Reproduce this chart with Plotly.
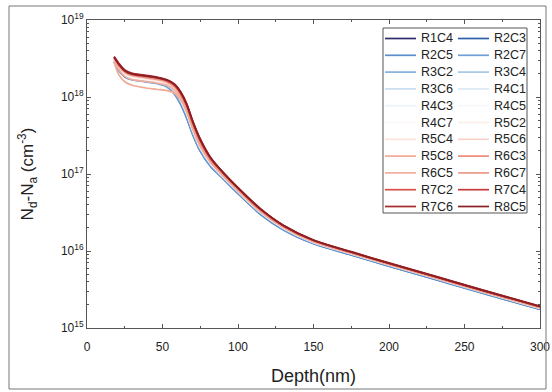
import plotly.graph_objects as go

depth = [18, 21, 25, 30, 38, 46, 53, 58, 62, 66, 70, 75, 82, 90, 100, 115, 130, 150, 175, 200, 230, 260, 300]

R1C4 = [2.9e18, 2.25e18, 1.85e18, 1.7e18, 1.62e18, 1.52e18, 1.38e18, 1.12e18, 8.4e17, 5.6e17, 3.4e17, 2.05e17, 1.27e17, 8.9e16, 5.7e16, 3.05e16, 1.92e16, 1.26e16, 9.02e15, 6.44e15, 4.37e15, 2.94e15, 1.77e15]
R2C3 = [2.95e18, 2.3e18, 1.9e18, 1.72e18, 1.63e18, 1.53e18, 1.37e18, 1.1e18, 8.2e17, 5.4e17, 3.3e17, 2.0e17, 1.25e17, 8.8e16, 5.6e16, 3.0e16, 1.9e16, 1.25e16, 8.92e15, 6.37e15, 4.32e15, 2.91e15, 1.75e15]
R2C5 = [2.85e18, 2.2e18, 1.82e18, 1.66e18, 1.58e18, 1.5e18, 1.35e18, 1.08e18, 8.0e17, 5.3e17, 3.25e17, 1.98e17, 1.24e17, 8.7e16, 5.55e16, 2.98e16, 1.88e16, 1.24e16, 8.87e15, 6.34e15, 4.3e15, 2.9e15, 1.74e15]
R2C7 = [3.0e18, 2.35e18, 1.92e18, 1.75e18, 1.65e18, 1.55e18, 1.4e18, 1.13e18, 8.5e17, 5.7e17, 3.45e17, 2.08e17, 1.29e17, 9.0e16, 5.75e16, 3.08e16, 1.93e16, 1.27e16, 9.07e15, 6.48e15, 4.39e15, 2.96e15, 1.78e15]
R3C2 = [2.9e18, 2.28e18, 1.88e18, 1.71e18, 1.61e18, 1.52e18, 1.38e18, 1.13e18, 8.6e17, 5.8e17, 3.5e17, 2.1e17, 1.3e17, 9.0e16, 5.8e16, 3.1e16, 1.95e16, 1.28e16, 9.11e15, 6.51e15, 4.42e15, 2.98e15, 1.79e15]
R3C4 = [2.95e18, 2.32e18, 1.9e18, 1.73e18, 1.64e18, 1.55e18, 1.42e18, 1.17e18, 8.9e17, 6.0e17, 3.6e17, 2.15e17, 1.32e17, 9.1e16, 5.85e16, 3.12e16, 1.96e16, 1.28e16, 9.16e15, 6.55e15, 4.44e15, 2.99e15, 1.8e15]
R3C6 = [3.0e18, 2.4e18, 1.98e18, 1.8e18, 1.7e18, 1.6e18, 1.46e18, 1.22e18, 9.3e17, 6.3e17, 3.8e17, 2.25e17, 1.38e17, 9.4e16, 6.0e16, 3.2e16, 2.0e16, 1.3e16, 9.31e15, 6.65e15, 4.51e15, 3.04e15, 1.82e15]
R4C1 = [3.05e18, 2.42e18, 2.0e18, 1.82e18, 1.72e18, 1.62e18, 1.48e18, 1.24e18, 9.5e17, 6.5e17, 3.9e17, 2.3e17, 1.4e17, 9.5e16, 6.05e16, 3.22e16, 2.02e16, 1.31e16, 9.36e15, 6.69e15, 4.54e15, 3.06e15, 1.83e15]
R4C3 = [2.98e18, 2.38e18, 1.96e18, 1.78e18, 1.69e18, 1.59e18, 1.45e18, 1.21e18, 9.2e17, 6.2e17, 3.75e17, 2.22e17, 1.37e17, 9.3e16, 5.95e16, 3.18e16, 1.99e16, 1.3e16, 9.26e15, 6.62e15, 4.49e15, 3.02e15, 1.81e15]
R4C5 = [3.1e18, 2.45e18, 2.02e18, 1.84e18, 1.74e18, 1.64e18, 1.5e18, 1.26e18, 9.7e17, 6.6e17, 3.95e17, 2.32e17, 1.41e17, 9.6e16, 6.1e16, 3.25e16, 2.03e16, 1.32e16, 9.41e15, 6.72e15, 4.56e15, 3.07e15, 1.84e15]
R4C7 = [3.0e18, 2.36e18, 1.94e18, 1.77e18, 1.68e18, 1.58e18, 1.44e18, 1.2e18, 9.1e17, 6.1e17, 3.7e17, 2.2e17, 1.36e17, 9.3e16, 5.95e16, 3.17e16, 1.99e16, 1.3e16, 9.26e15, 6.62e15, 4.49e15, 3.02e15, 1.81e15]
R5C2 = [3.05e18, 2.44e18, 2.01e18, 1.83e18, 1.73e18, 1.63e18, 1.49e18, 1.25e18, 9.6e17, 6.55e17, 3.92e17, 2.3e17, 1.4e17, 9.55e16, 6.08e16, 3.24e16, 2.02e16, 1.31e16, 9.36e15, 6.69e15, 4.54e15, 3.06e15, 1.83e15]
R5C4 = [3.1e18, 2.5e18, 2.05e18, 1.86e18, 1.76e18, 1.66e18, 1.52e18, 1.3e18, 1.0e18, 6.8e17, 4.05e17, 2.38e17, 1.44e17, 9.7e16, 6.15e16, 3.28e16, 2.05e16, 1.33e16, 9.41e15, 6.72e15, 4.56e15, 3.07e15, 1.84e15]
R5C6 = [3.15e18, 2.55e18, 2.08e18, 1.88e18, 1.78e18, 1.68e18, 1.54e18, 1.32e18, 1.02e18, 7.0e17, 4.15e17, 2.42e17, 1.46e17, 9.8e16, 6.2e16, 3.3e16, 2.06e16, 1.34e16, 9.46e15, 6.76e15, 4.58e15, 3.09e15, 1.85e15]
R5C8 = [2.8e18, 1.95e18, 1.58e18, 1.42e18, 1.32e18, 1.26e18, 1.21e18, 1.12e18, 9.2e17, 6.4e17, 3.85e17, 2.28e17, 1.4e17, 9.5e16, 6.05e16, 3.22e16, 2.02e16, 1.31e16, 9.31e15, 6.65e15, 4.51e15, 3.04e15, 1.82e15]
R6C3 = [3.2e18, 2.6e18, 2.15e18, 1.95e18, 1.85e18, 1.75e18, 1.6e18, 1.38e18, 1.08e18, 7.4e17, 4.4e17, 2.55e17, 1.5e17, 1.0e17, 6.35e16, 3.38e16, 2.1e16, 1.36e16, 9.55e15, 6.83e15, 4.63e15, 3.12e15, 1.87e15]
R6C5 = [3.1e18, 2.3e18, 1.85e18, 1.68e18, 1.6e18, 1.52e18, 1.42e18, 1.22e18, 9.6e17, 6.6e17, 3.95e17, 2.32e17, 1.42e17, 9.6e16, 6.1e16, 3.25e16, 2.03e16, 1.32e16, 9.36e15, 6.69e15, 4.54e15, 3.06e15, 1.83e15]
R6C7 = [3.2e18, 2.55e18, 2.1e18, 1.9e18, 1.8e18, 1.7e18, 1.56e18, 1.35e18, 1.05e18, 7.2e17, 4.3e17, 2.5e17, 1.48e17, 9.9e16, 6.3e16, 3.35e16, 2.08e16, 1.35e16, 9.5e15, 6.79e15, 4.6e15, 3.1e15, 1.86e15]
R7C2 = [3.3e18, 2.7e18, 2.22e18, 2.0e18, 1.9e18, 1.8e18, 1.65e18, 1.45e18, 1.15e18, 8.0e17, 4.8e17, 2.8e17, 1.6e17, 1.05e17, 6.6e16, 3.5e16, 2.15e16, 1.38e16, 9.7e15, 6.93e15, 4.7e15, 3.17e15, 1.9e15]
R7C4 = [3.25e18, 2.65e18, 2.18e18, 1.97e18, 1.87e18, 1.77e18, 1.63e18, 1.42e18, 1.12e18, 7.8e17, 4.65e17, 2.72e17, 1.57e17, 1.04e17, 6.5e16, 3.45e16, 2.13e16, 1.37e16, 9.65e15, 6.9e15, 4.68e15, 3.15e15, 1.89e15]
R7C6 = [3.35e18, 2.75e18, 2.25e18, 2.03e18, 1.93e18, 1.82e18, 1.67e18, 1.47e18, 1.17e18, 8.2e17, 4.9e17, 2.85e17, 1.62e17, 1.06e17, 6.65e16, 3.52e16, 2.16e16, 1.39e16, 9.8e15, 7.0e15, 4.75e15, 3.2e15, 1.92e15]
R8C5 = [3.3e18, 2.68e18, 2.2e18, 1.99e18, 1.89e18, 1.79e18, 1.66e18, 1.46e18, 1.16e18, 8.1e17, 4.85e17, 2.82e17, 1.61e17, 1.05e17, 6.6e16, 3.5e16, 2.15e16, 1.38e16, 9.7e15, 6.93e15, 4.7e15, 3.17e15, 1.9e15]

names = ["R1C4", "R2C3", "R2C5", "R2C7", "R3C2", "R3C4", "R3C6", "R4C1", "R4C3", "R4C5", "R4C7",
         "R5C2", "R5C4", "R5C6", "R5C8", "R6C3", "R6C5", "R6C7", "R7C2", "R7C4", "R7C6", "R8C5"]
series = [R1C4, R2C3, R2C5, R2C7, R3C2, R3C4, R3C6, R4C1, R4C3, R4C5, R4C7,
          R5C2, R5C4, R5C6, R5C8, R6C3, R6C5, R6C7, R7C2, R7C4, R7C6, R8C5]
colors = ["#2e2c6b", "#2f5ea8", "#5b8fcb", "#6d9fd3", "#7fb1dd", "#a4c8e6", "#c8def0", "#dce9f5",
          "#ebf2f9", "#f5f8fb", "#fbf8f7", "#fcefea", "#fbe2da", "#f8d2c6", "#f2aa96", "#ec8c7a",
          "#f2ad9d", "#ed9988", "#d9504a", "#c83a3a", "#a82a2a", "#8a1f24"]

y_ticks = [1e15, 1e16, 1e17, 1e18, 1e19]
y_ticktext = ["10<sup>15</sup>", "10<sup>16</sup>", "10<sup>17</sup>", "10<sup>18</sup>", "10<sup>19</sup>"]
y_minor = [m * 10 ** e for e in range(15, 19) for m in range(2, 10)]
x_ticks = [0, 50, 100, 150, 200, 250, 300]

FONT = "Liberation Sans, Arial, sans-serif"
TXT = "#222222"
AX = "#555555"

# plot area in pixels (for placing the legend box and titles)
W, H = 552, 392
ML, MR, MT, MB = 87, 12, 20, 64
PW, PH = W - ML - MR, H - MT - MB


def px(xp):
    return (xp - ML) / PW


def py(yp):
    return 1 - (yp - MT) / PH


fig = go.Figure()
for n, s, c in zip(names, series, colors):
    fig.add_trace(go.Scatter(
        x=depth, y=s, name=n, mode="lines", showlegend=False,
        line=dict(color=c, width=1.7, shape="spline", smoothing=0.8),
    ))

axis_common = dict(
    showline=True, linecolor=AX, linewidth=1, mirror="ticks",
    ticks="inside", tickcolor=AX, showgrid=False, zeroline=False, automargin=False,
    tickfont=dict(family=FONT, size=12, color=TXT),
)

fig.update_xaxes(
    range=[0, 300], tickvals=x_ticks, ticklen=4, ticklabelstandoff=8,
    minor=dict(dtick=25, tick0=0, ticks="inside", ticklen=2, tickcolor=AX),
    **axis_common,
)
fig.update_yaxes(
    type="log", range=[15, 19], tickvals=y_ticks, ticktext=y_ticktext, ticklen=4,
    minor=dict(tickvals=y_minor, ticks="inside", ticklen=2, tickcolor=AX),
    title=dict(text="N<sub>d</sub>-N<sub>a</sub> (cm<sup>-3</sup>)",
               font=dict(family=FONT, size=17, color=TXT), standoff=22),
    **axis_common,
)

shapes = []
annotations = [dict(text="Depth(nm)", xref="paper", yref="paper", x=0.5, y=py(376),
                    xanchor="center", yanchor="middle", showarrow=False,
                    font=dict(family=FONT, size=18, color=TXT))]

# legend: two columns, drawn as line samples plus text labels
row_h = 16.8
for i, (n, c) in enumerate(zip(names, colors)):
    row, col = divmod(i, 2)
    yy = py(38.5 + row * row_h)
    x0 = 385 + col * 73
    shapes.append(dict(type="line", xref="paper", yref="paper", x0=px(x0), x1=px(x0 + 31),
                       y0=yy, y1=yy, line=dict(color=c, width=1.7)))
    annotations.append(dict(text=n, xref="paper", yref="paper", x=px(x0 + 34), y=yy,
                            xanchor="left", yanchor="middle", showarrow=False,
                            font=dict(family=FONT, size=12.5, color=TXT)))

shapes.append(dict(type="rect", xref="paper", yref="paper", x0=px(383), x1=px(527),
                   y0=py(213), y1=py(28), line=dict(color=AX, width=1),
                   fillcolor="rgba(0,0,0,0)"))
shapes.append(dict(type="rect", xref="paper", yref="paper", x0=px(9), x1=px(546),
                   y0=py(389), y1=py(6), line=dict(color="#777777", width=1),
                   fillcolor="rgba(0,0,0,0)"))

fig.update_layout(
    width=W, height=H,
    margin=dict(l=ML, r=MR, t=MT, b=MB),
    paper_bgcolor="white", plot_bgcolor="white",
    showlegend=False,
    shapes=shapes, annotations=annotations,
)

fig.write_html("out.html", config={"displayModeBar": False},
               post_script="document.body.style.margin='0px';document.body.style.overflow='hidden';")
